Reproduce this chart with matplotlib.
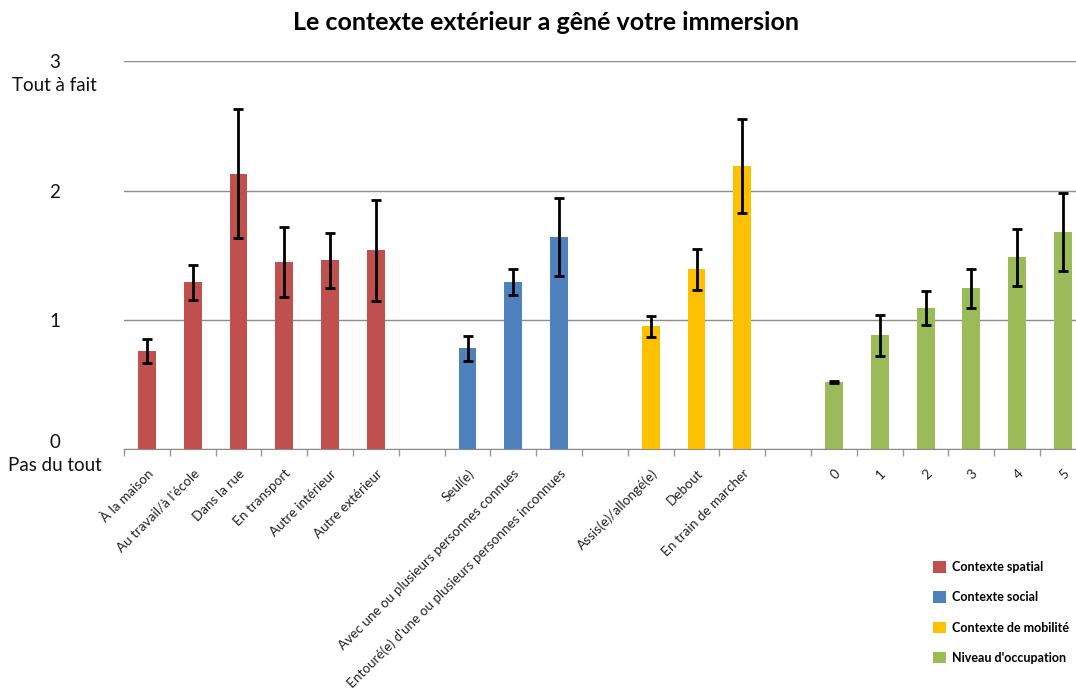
import matplotlib
matplotlib.use('Agg')
import matplotlib.pyplot as plt
import matplotlib.transforms as mtransforms
from matplotlib.patches import Patch
import numpy as np

plt.rcParams['font.family'] = ['Lato', 'DejaVu Sans']

# data
spatial_lab = ['À la maison', "Au travail/à l'école", 'Dans la rue', 'En transport',
               'Autre intérieur', 'Autre extérieur']
spatial_val = [0.76, 1.29, 2.13, 1.45, 1.46, 1.54]
spatial_err = [0.09, 0.135, 0.50, 0.27, 0.21, 0.39]

social_lab = ['Seul(e)', 'Avec une ou plusieurs personnes connues',
              "Entouré(e) d'une ou plusieurs personnes inconnues"]
social_val = [0.78, 1.29, 1.64]
social_err = [0.094, 0.10, 0.30]

mobil_lab = ['Assis(e)/allongé(e)', 'Debout', 'En train de marcher']
mobil_val = [0.95, 1.39, 2.19]
mobil_err = [0.08, 0.16, 0.36]

occup_lab = ['0', '1', '2', '3', '4', '5']
occup_val = [0.52, 0.88, 1.09, 1.245, 1.485, 1.68]
occup_err = [0.01, 0.16, 0.13, 0.15, 0.22, 0.30]

legend_lab = ['Contexte spatial', 'Contexte social', 'Contexte de mobilité',
              "Niveau d'occupation"]
colors = ['#C0504D', '#4F81BD', '#FFC000', '#9BBB59']

ytick_lab = ['0\nPas du tout', '1', '2', '3\nTout à fait']

# plotting
fig = plt.figure(figsize=(10.76, 6.96), dpi=100)
ax = fig.add_axes([0.1152, 0.3545, 0.894, 0.5575])

groups = [
    (spatial_lab, spatial_val, spatial_err),
    (social_lab, social_val, social_err),
    (mobil_lab, mobil_val, mobil_err),
    (occup_lab, occup_val, occup_err),
]
pos = 0
all_lab, all_pos = [], []
for (lab_l, val_l, err_l), col in zip(groups, colors):
    x_ra = pos + np.arange(len(val_l))
    ax.bar(x_ra, val_l, width=0.39, color=col, zorder=2)
    ax.errorbar(x_ra, val_l, yerr=err_l, fmt='none', ecolor='black',
                elinewidth=2, capsize=3.5, capthick=2, zorder=3)
    all_lab += lab_l
    all_pos += list(x_ra)
    pos += len(val_l) + 1

ax.set_xlim(-0.5, pos - 1.5)
ax.set_ylim(0, 3)

ax.set_xticks(all_pos)
ax.set_xticklabels(all_lab, rotation=45, ha='right', rotation_mode='anchor',
                   fontsize=9.7, color='#222222')
ax.tick_params(axis='x', which='major', length=0, pad=13)
ax.set_xticks(np.arange(-0.5, pos - 1.5, 1), minor=True)
ax.tick_params(axis='x', which='minor', length=5, color='#999999', width=1)

ax.set_yticks([0, 1, 2, 3])
ax.set_yticklabels(ytick_lab, fontsize=13.5, ha='center', color='#111111',
                   linespacing=1.45)
ax.tick_params(axis='y', length=0, pad=50)
# top label sits a bit lower in the original
top_lbl = ax.get_yticklabels()[-1]
top_lbl.set_transform(top_lbl.get_transform()
                      + mtransforms.ScaledTranslation(0, -8/100, fig.dpi_scale_trans))

ax.grid(axis='y', color='#8c8c8c', linewidth=1, zorder=0)
for s in ['top', 'right', 'left']:
    ax.spines[s].set_visible(False)
ax.spines['bottom'].set_color('#8c8c8c')

fig.text(0.507, 0.968, 'Le contexte extérieur a gêné votre immersion',
         ha='center', va='center', fontsize=18, fontweight='bold')

handles = [Patch(facecolor=c, edgecolor='none') for c in colors]
fig.legend(handles, legend_lab, loc='lower right', bbox_to_anchor=(1.004, 0.03),
           frameon=False, handlelength=1.05, handleheight=1.05,
           labelspacing=1.45, handletextpad=0.45, prop={'weight': 'bold', 'size': 9})

fig.savefig('out.png', dpi=100)
